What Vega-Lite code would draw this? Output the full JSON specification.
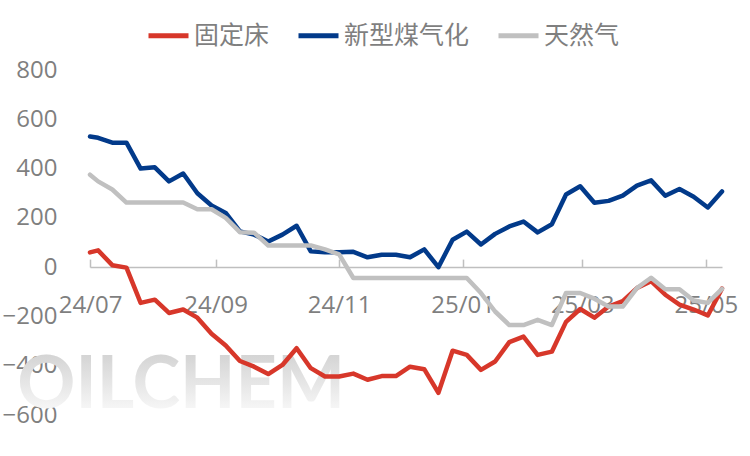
{
  "$schema": "https://vega.github.io/schema/vega-lite/v6.json",
  "width": 632,
  "height": 345,
  "autosize": {"type": "none"},
  "padding": {"left": 90, "top": 70, "right": 28, "bottom": 41},
  "background": "white",
  "config": {
    "view": {"stroke": null},
    "font": "Open Sans"
  },
  "data": {
    "values": [
      {"date": "2024/07/01", "固定床": 60, "新型煤气化": 530, "天然气": 375},
      {"date": "2024/07/05", "固定床": 68, "新型煤气化": 525, "天然气": 348},
      {"date": "2024/07/12", "固定床": 8, "新型煤气化": 505, "天然气": 315},
      {"date": "2024/07/19", "固定床": -2, "新型煤气化": 505, "天然气": 262},
      {"date": "2024/07/26", "固定床": -145, "新型煤气化": 400, "天然气": 262},
      {"date": "2024/08/02", "固定床": -132, "新型煤气化": 405, "天然气": 262},
      {"date": "2024/08/09", "固定床": -186, "新型煤气化": 348, "天然气": 262},
      {"date": "2024/08/16", "固定床": -172, "新型煤气化": 380, "天然气": 262},
      {"date": "2024/08/23", "固定床": -205, "新型煤气化": 300, "天然气": 235},
      {"date": "2024/08/30", "固定床": -270, "新型煤气化": 250, "天然气": 235},
      {"date": "2024/09/06", "固定床": -318, "新型煤气化": 220, "天然气": 200},
      {"date": "2024/09/13", "固定床": -381, "新型煤气化": 145, "天然气": 142},
      {"date": "2024/09/20", "固定床": -404, "新型煤气化": 132, "天然气": 140},
      {"date": "2024/09/27", "固定床": -434, "新型煤气化": 104, "天然气": 88},
      {"date": "2024/10/04", "固定床": -397, "新型煤气化": 132, "天然气": 88},
      {"date": "2024/10/11", "固定床": -329, "新型煤气化": 168, "天然气": 88},
      {"date": "2024/10/18", "固定床": -410, "新型煤气化": 64, "天然气": 88},
      {"date": "2024/10/25", "固定床": -444, "新型煤气化": 60, "天然气": 72},
      {"date": "2024/11/01", "固定床": -444, "新型煤气化": 60, "天然气": 52},
      {"date": "2024/11/08", "固定床": -432, "新型煤气化": 62, "天然气": -44},
      {"date": "2024/11/15", "固定床": -457, "新型煤气化": 40, "天然气": -44},
      {"date": "2024/11/22", "固定床": -442, "新型煤气化": 50, "天然气": -44},
      {"date": "2024/11/29", "固定床": -442, "新型煤气化": 50, "天然气": -44},
      {"date": "2024/12/06", "固定床": -404, "新型煤气化": 40, "天然气": -44},
      {"date": "2024/12/13", "固定床": -414, "新型煤气化": 72, "天然气": -44},
      {"date": "2024/12/20", "固定床": -510, "新型煤气化": 0, "天然气": -44},
      {"date": "2024/12/27", "固定床": -339, "新型煤气化": 111, "天然气": -44},
      {"date": "2025/01/03", "固定床": -356, "新型煤气化": 144, "天然气": -44},
      {"date": "2025/01/10", "固定床": -417, "新型煤气化": 92, "天然气": -105},
      {"date": "2025/01/17", "固定床": -383, "新型煤气化": 135, "天然气": -180},
      {"date": "2025/01/24", "固定床": -304, "新型煤气化": 165, "天然气": -235},
      {"date": "2025/01/31", "固定床": -282, "新型煤气化": 185, "天然气": -235},
      {"date": "2025/02/07", "固定床": -356, "新型煤气化": 141, "天然气": -214},
      {"date": "2025/02/14", "固定床": -343, "新型煤气化": 174, "天然气": -235},
      {"date": "2025/02/21", "固定床": -222, "新型煤气化": 295, "天然气": -105},
      {"date": "2025/02/28", "固定床": -170, "新型煤气化": 328, "天然气": -105},
      {"date": "2025/03/07", "固定床": -205, "新型煤气化": 261, "天然气": -128},
      {"date": "2025/03/14", "固定床": -160, "新型煤气化": 269, "天然气": -160},
      {"date": "2025/03/21", "固定床": -138, "新型煤气化": 290, "天然气": -160},
      {"date": "2025/03/28", "固定床": -85, "新型煤气化": 331, "天然气": -85},
      {"date": "2025/04/04", "固定床": -57, "新型煤气化": 352, "天然气": -43},
      {"date": "2025/04/11", "固定床": -112, "新型煤气化": 290, "天然气": -90},
      {"date": "2025/04/18", "固定床": -152, "新型煤气化": 317, "天然气": -90},
      {"date": "2025/04/25", "固定床": -172, "新型煤气化": 286, "天然气": -135},
      {"date": "2025/05/02", "固定床": -196, "新型煤气化": 242, "天然气": -145},
      {"date": "2025/05/09", "固定床": -87, "新型煤气化": 307, "天然气": -88}
    ]
  },
  "layer": [
    {
      "data": {"values": [{"label": "OILCHEM"}]},
      "mark": {
        "type": "text",
        "font": "Lato",
        "fontWeight": "bold",
        "fontSize": 72,
        "align": "center",
        "baseline": "alphabetic",
        "color": {
          "gradient": "linear",
          "x1": 0, "y1": 0, "x2": 0, "y2": 1,
          "stops": [
            {"offset": 0, "color": "#c9c9c9"},
            {"offset": 1, "color": "#ffffff"}
          ]
        }
      },
      "encoding": {
        "text": {"field": "label"},
        "x": {"datum": {"year": 2024, "month": 8, "date": 15}, "type": "temporal"},
        "y": {"datum": -572, "type": "quantitative"}
      }
    },
    {
      "transform": [
        {"fold": ["固定床", "新型煤气化", "天然气"], "as": ["series", "value"]}
      ],
      "mark": {"type": "line", "strokeWidth": 4.5, "strokeJoin": "round", "strokeCap": "round"},
      "encoding": {
        "x": {
          "field": "date",
          "type": "temporal",
          "scale": {"domain": [{"year": 2024, "month": 7, "date": 1}, {"year": 2025, "month": 5, "date": 9}]},
          "axis": {
            "title": null,
            "format": "%y/%m",
            "tickCount": {"interval": "month", "step": 2},
            "grid": false,
            "offset": -147.9,
            "domainColor": "#bfbfbf",
            "domainWidth": 1.5,
            "tickColor": "#bfbfbf",
            "tickWidth": 1.5,
            "tickSize": -8,
            "labelPadding": 34,
            "labelFlush": false,
            "labelOverlap": false,
            "labelFont": "Open Sans",
            "labelFontSize": 24,
            "labelColor": "#7f7f7f"
          }
        },
        "y": {
          "field": "value",
          "type": "quantitative",
          "scale": {"domain": [-600, 800], "nice": false, "zero": false},
          "axis": {
            "title": null,
            "values": [-600, -400, -200, 0, 200, 400, 600, 800],
            "domain": false,
            "ticks": false,
            "tickSize": 0,
            "labelPadding": 33,
            "labelFont": "Open Sans",
            "labelFontSize": 24,
            "labelColor": "#7f7f7f",
            "gridColor": "#d9d9d9",
            "gridWidth": 1.5,
            "gridDash": [8, 5]
          }
        },
        "color": {
          "field": "series",
          "type": "nominal",
          "sort": ["固定床", "新型煤气化", "天然气"],
          "scale": {"domain": ["固定床", "新型煤气化", "天然气"], "range": ["#d7372a", "#023a8a", "#c0c0c0"]},
          "legend": {
            "title": null,
            "orient": "none",
            "direction": "horizontal",
            "legendX": 56,
            "legendY": -57,
            "symbolType": "stroke",
            "symbolSize": 1600,
            "symbolStrokeWidth": 5,
            "labelFont": "Noto Sans CJK SC",
            "labelFontSize": 25,
            "labelColor": "#7f7f7f",
            "labelOffset": 3,
            "columnPadding": 18,
            "padding": 0
          }
        }
      }
    }
  ]
}
